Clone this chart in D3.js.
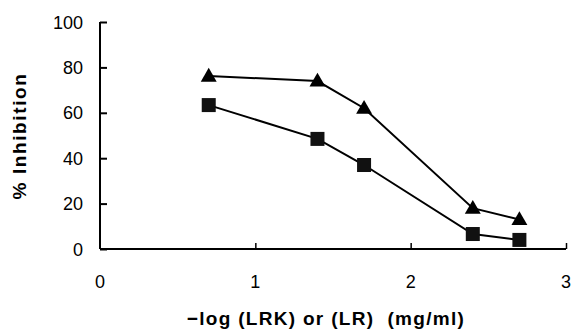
<!DOCTYPE html>
<html>
<head>
<meta charset="utf-8">
<script src="https://cdn.jsdelivr.net/npm/d3@7"></script>
<style>
body { margin: 0; background: #fff; }
text { font-family: "Liberation Sans", Arial, sans-serif; }
</style>
</head>
<body>
<script>
var w = 571;
var h = 329;

var xVals = [0.7, 1.4, 1.7, 2.4, 2.7];
var lrk = [76.2, 74, 62, 18, 13];   // triangles
var lr = [63.4, 48.5, 37, 6.6, 4];  // squares
var xTicks = [0, 1, 2, 3];
var yTicks = [0, 20, 40, 60, 80, 100];

var svg = d3.select("body").append("svg").attr("width", w).attr("height", h);

var x = d3.scaleLinear().domain([0, 3]).range([100, 566]);
var y = d3.scaleLinear().domain([0, 100]).range([249, 22]);

// y axis
var yAxis = svg.append("g").attr("transform", "translate(100,0)")
  .call(d3.axisRight(y).tickValues(yTicks).tickSize(7).tickFormat(""));
yAxis.select(".domain").attr("d", "M0," + y(100) + "V" + y(0)).attr("stroke-width", 2);
yAxis.selectAll(".tick line").attr("stroke-width", 2);

svg.selectAll(".ylab").data(yTicks).enter().append("text")
  .attr("x", 83).attr("y", function(d){ return y(d) + 6.5; })
  .attr("text-anchor", "end").attr("font-size", 18)
  .text(function(d){ return d; });

// x axis
var xAxis = svg.append("g").attr("transform", "translate(0," + y(0) + ")")
  .call(d3.axisTop(x).tickValues(xTicks.slice(1)).tickSize(6).tickFormat(""));
xAxis.select(".domain").attr("d", "M" + x(0) + ",0H" + x(3)).attr("stroke-width", 2);
xAxis.selectAll(".tick line").attr("stroke-width", 1.5);

svg.selectAll(".xlab").data(xTicks).enter().append("text")
  .attr("x", function(d){ return x(d); }).attr("y", 288)
  .attr("text-anchor", "middle").attr("font-size", 18)
  .text(function(d){ return d; });

// axis titles
svg.append("text").attr("transform", "translate(26,136) rotate(-90)")
  .attr("text-anchor", "middle").attr("font-size", 19).attr("font-weight", "bold")
  .attr("letter-spacing", 1.6)
  .text("% Inhibition");
svg.append("text").attr("x", 326).attr("y", 325)
  .attr("text-anchor", "middle").attr("font-size", 19).attr("font-weight", "bold")
  .attr("letter-spacing", 1.3)
  .attr("xml:space", "preserve")
  .text("\u2212log (LRK) or (LR)  (mg/ml)");

var line = d3.line().x(function(d){ return x(d[0]); }).y(function(d){ return y(d[1]); });

var lrkPts = d3.zip(xVals, lrk);
var lrPts = d3.zip(xVals, lr);

svg.append("path").attr("d", line(lrkPts)).attr("fill", "none").attr("stroke", "#000").attr("stroke-width", 2);
svg.append("path").attr("d", line(lrPts)).attr("fill", "none").attr("stroke", "#000").attr("stroke-width", 2);

svg.selectAll(".tri").data(lrkPts).enter().append("path")
  .attr("d", d3.symbol().type(d3.symbolTriangle).size(110))
  .attr("transform", function(d){ return "translate(" + x(d[0]) + "," + (y(d[1]) + 1) + ")"; })
  .attr("fill", "#000");

svg.selectAll(".sq").data(lrPts).enter().append("rect")
  .attr("x", function(d){ return x(d[0]) - 7; })
  .attr("y", function(d){ return y(d[1]) - 7; })
  .attr("width", 14).attr("height", 14)
  .attr("fill", "#111");
</script>
</body>
</html>
